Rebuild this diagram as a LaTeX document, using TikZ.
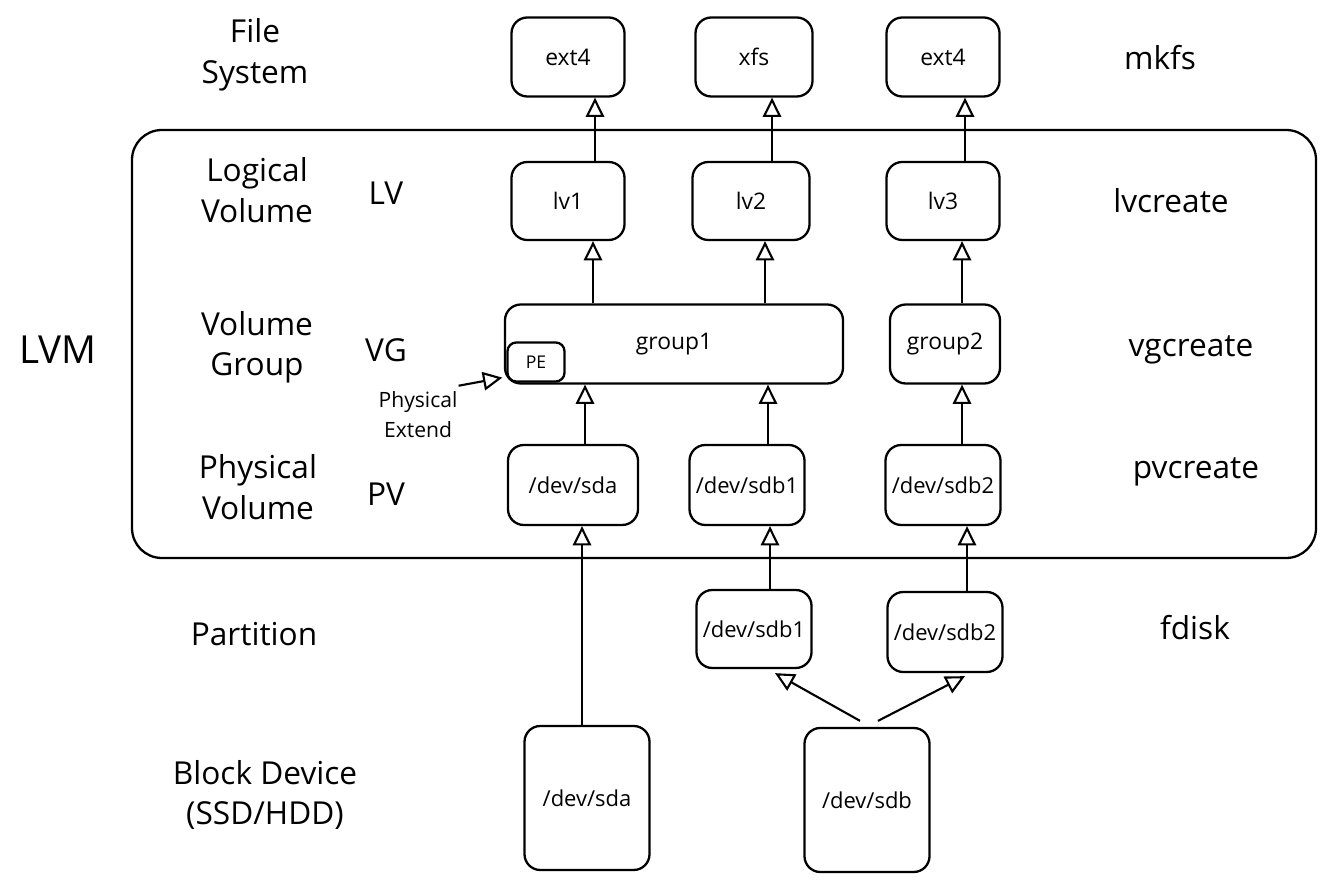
\documentclass[tikz,border=0pt]{standalone}
\usepackage{fontspec}
\setmainfont{Open Sans}
\usetikzlibrary{arrows.meta}

\begin{document}
\begin{tikzpicture}[
    box/.style={draw, line width=1.3pt, rounded corners=9pt, inner sep=0pt, align=center, font=\fontsize{13}{15}\selectfont},
    devbox/.style={box, font=\fontsize{12.5}{15}\selectfont},
    lbl/.style={align=center, font=\fontsize{18}{23}\selectfont},
    arr/.style={line width=1.2pt, -{Triangle[open,length=11pt,width=10.5pt]}}
  ]
			%%%%% START %%%%%
			\useasboundingbox (0,0) rectangle (26.56,17.58);
			
			\draw[line width=1.3pt, rounded corners=17pt] (2.64, 6.42) rectangle (26.32, 14.98);
			\node[lbl, font=\fontsize{22}{26}\selectfont] (lvm) at (1.16, 10.58) {LVM};
			
			% left column
			\node[lbl] (fslbl) at (5.10, 16.48) {File\\System};
			\node[lbl] (lvlbl) at (5.14, 13.78) {Logical\\Volume};
			\node[lbl] (lvabbr) at (7.72, 13.72) {LV};
			\node[lbl] (vglbl) at (5.14, 10.64) {Volume\\Group};
			\node[lbl] (vgabbr) at (7.72, 10.58) {VG};
			\node[lbl] (pvlbl) at (5.16, 7.84) {Physical\\Volume};
			\node[lbl] (pvabbr) at (7.72, 7.70) {PV};
			\node[lbl] (partlbl) at (5.08, 4.90) {Partition};
			\node[lbl] (blklbl) at (5.30, 1.68) {Block Device\\(SSD/HDD)};
			
			% right column
			\node[lbl] (mkfs) at (23.20, 16.42) {mkfs};
			\node[lbl] (lvcreate) at (23.42, 13.56) {lvcreate};
			\node[lbl] (vgcreate) at (23.82, 10.58) {vgcreate};
			\node[lbl] (pvcreate) at (23.92, 8.14) {pvcreate};
			\node[lbl] (fdisk) at (23.90, 5.02) {fdisk};
			
			% file systems
			\node[box, minimum width=2.26cm, minimum height=1.58cm] (fs1) at (11.36, 16.44) {ext4};
			\node[box, minimum width=2.34cm, minimum height=1.58cm] (fs2) at (15.08, 16.44) {xfs};
			\node[box, minimum width=2.26cm, minimum height=1.58cm] (fs3) at (18.86, 16.44) {ext4};
			
			% logical volumes
			\node[box, minimum width=2.26cm, minimum height=1.56cm] (lv1) at (11.36, 13.56) {lv1};
			\node[box, minimum width=2.34cm, minimum height=1.56cm] (lv2) at (15.02, 13.56) {lv2};
			\node[box, minimum width=2.26cm, minimum height=1.56cm] (lv3) at (18.86, 13.56) {lv3};
			
			% volume groups
			\node[box, minimum width=6.76cm, minimum height=1.58cm] (group1) at (13.48, 10.70) {group1};
			\node[box, minimum width=2.20cm, minimum height=1.58cm] (group2) at (18.90, 10.70) {group2};
			\node[box, rounded corners=5pt, minimum width=1.14cm, minimum height=0.78cm, font=\fontsize{10}{12}\selectfont] (pe) at (10.72, 10.34) {PE};
			\node[align=center, font=\fontsize{12}{17}\selectfont] (pext) at (8.36, 9.28) {Physical\\Extend};
			
			% physical volumes
			\node[devbox, minimum width=2.60cm, minimum height=1.60cm] (pv1) at (11.46, 7.88) {/dev/sda};
			\node[devbox, minimum width=2.30cm, minimum height=1.60cm] (pv2) at (14.94, 7.88) {/dev/sdb1};
			\node[devbox, minimum width=2.30cm, minimum height=1.60cm] (pv3) at (18.86, 7.88) {/dev/sdb2};
			
			% partitions
			\node[devbox, minimum width=2.30cm, minimum height=1.56cm] (part1) at (15.08, 5.00) {/dev/sdb1};
			\node[devbox, minimum width=2.30cm, minimum height=1.60cm] (part2) at (18.90, 4.94) {/dev/sdb2};
			
			% block devices
			\node[devbox, minimum width=2.50cm, minimum height=2.88cm] (blk1) at (11.74, 1.62) {/dev/sda};
			\node[devbox, minimum width=2.50cm, minimum height=2.88cm] (blk2) at (17.34, 1.58) {/dev/sdb};
			
			% arrows
			\draw[arr] ([xshift=.54cm]lv1.north) -- ([xshift=.54cm]lv1.north |- fs1.south);
			\draw[arr] ([xshift=.42cm]lv2.north) -- ([xshift=.42cm]lv2.north |- fs2.south);
			\draw[arr] ([xshift=.44cm]lv3.north) -- ([xshift=.44cm]lv3.north |- fs3.south);
			
			\draw[arr] ([xshift=.50cm]lv1.south |- group1.north) -- ([xshift=.50cm]lv1.south);
			\draw[arr] ([xshift=.28cm]lv2.south |- group1.north) -- ([xshift=.28cm]lv2.south);
			\draw[arr] ([xshift=.38cm]lv3.south |- group2.north) -- ([xshift=.38cm]lv3.south);
			
			\draw[arr] ([xshift=.24cm]pv1.north) -- ([xshift=.24cm]pv1.north |- group1.south);
			\draw[arr] ([xshift=.42cm]pv2.north) -- ([xshift=.42cm]pv2.north |- group1.south);
			\draw[arr] ([xshift=.38cm]pv3.north) -- ([xshift=.38cm]pv3.north |- group2.south);
			
			\draw[arr] ([xshift=.18cm]pv1.south |- blk1.north) -- ([xshift=.18cm]pv1.south);
			\draw[arr] ([xshift=.46cm]pv2.south |- part1.north) -- ([xshift=.46cm]pv2.south);
			\draw[arr] ([xshift=.48cm]pv3.south |- part2.north) -- ([xshift=.48cm]pv3.south);
			
			\draw[arr] ([xshift=-.14cm,yshift=.12cm]blk2.north) -- ([xshift=.42cm,yshift=-.08cm]part1.south);
			\draw[arr] ([xshift=.22cm,yshift=.12cm]blk2.north) -- ([xshift=.40cm,yshift=-.06cm]part2.south);
			
			\draw[arr] ([xshift=-.1cm]pext.north east) -- ([xshift=-.08cm,yshift=.1cm]pe.south west);
			%%%%% END %%%%%
\end{tikzpicture}
\end{document}
